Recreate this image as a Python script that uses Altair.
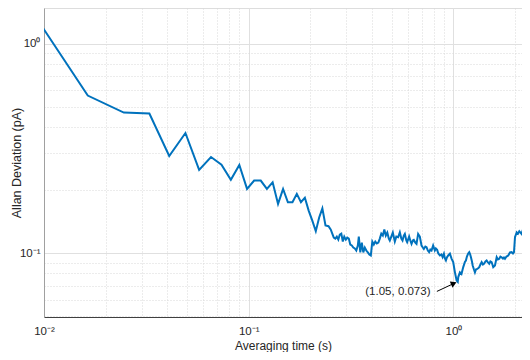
import altair as alt
import pandas as pd

# averaging times (s) and Allan deviation (pA)
tau = [0.00818, 0.01636, 0.02454, 0.03272, 0.0409, 0.04908, 0.05726, 0.06544, 0.07362, 0.0818,
       0.08998, 0.09816, 0.1063, 0.1145, 0.1227, 0.1309, 0.1391, 0.1472, 0.1554, 0.1636,
       0.1718, 0.18, 0.1881, 0.1963, 0.2045, 0.2127, 0.2209, 0.229, 0.2372, 0.2454,
       0.2518, 0.2560, 0.2604, 0.2649, 0.2694, 0.2740, 0.2786, 0.2834, 0.2882, 0.2930,
       0.2981, 0.3031, 0.3083, 0.3135, 0.3189, 0.3243, 0.3298, 0.3354, 0.3412, 0.3450,
       0.3509, 0.3569, 0.3629, 0.3691, 0.3754, 0.3818, 0.3883, 0.3949, 0.4016, 0.4085,
       0.4154, 0.4225, 0.4297, 0.4370, 0.4444, 0.4520, 0.4597, 0.4675, 0.4754, 0.4835,
       0.4890, 0.4973, 0.5058, 0.5173, 0.5261, 0.5369, 0.5473, 0.5566, 0.5642, 0.5725,
       0.5790, 0.5888, 0.5942, 0.6076, 0.6158, 0.6243, 0.6335, 0.6406, 0.6515, 0.6604,
       0.6724, 0.6854, 0.6986, 0.7089, 0.7170, 0.7292, 0.7391, 0.7500, 0.7610, 0.7714,
       0.7818, 0.7960, 0.8114, 0.8206, 0.8327, 0.8440, 0.8590, 0.8736, 0.8855, 0.8986,
       0.9088, 0.9191, 0.9295, 0.9431, 0.9614, 0.9802, 0.9977, 1.0171, 1.037, 1.05,
       1.056, 1.076, 1.095, 1.117, 1.138, 1.151, 1.164, 1.181, 1.195, 1.208,
       1.218, 1.232, 1.242, 1.260, 1.274, 1.288, 1.307, 1.325, 1.337, 1.355,
       1.374, 1.394, 1.410, 1.434, 1.453, 1.475, 1.496, 1.516, 1.537, 1.551,
       1.565, 1.596, 1.627, 1.650, 1.675, 1.697, 1.719, 1.746, 1.766, 1.786,
       1.817, 1.853, 1.889, 1.926, 1.954, 1.977, 1.999, 2.038, 2.068, 2.098,
       2.126, 2.153, 2.187, 2.212, 2.237, 2.263, 2.288, 2.322, 2.354, 2.38]
adev = [1.57, 0.565, 0.469, 0.464, 0.291, 0.3745, 0.2495, 0.2877, 0.2645, 0.224,
        0.2637, 0.2026, 0.222, 0.222, 0.2026, 0.218, 0.1718, 0.2026, 0.175, 0.175,
        0.1918, 0.175, 0.184, 0.1597, 0.143, 0.1273, 0.148, 0.1637, 0.1355, 0.1345,
        0.1296, 0.1240, 0.1187, 0.1174, 0.1200, 0.1161, 0.1227, 0.1240, 0.1136, 0.1200,
        0.1161, 0.1187, 0.1174, 0.1100, 0.1088, 0.1064, 0.1053, 0.1030, 0.1088, 0.1200,
        0.1008, 0.1124, 0.1008, 0.1064, 0.1030, 0.1008, 0.0986, 0.0975, 0.1136, 0.1100,
        0.1136, 0.1112, 0.1124, 0.1174, 0.1240, 0.1214, 0.1296, 0.1214, 0.1254, 0.1174,
        0.1149, 0.1200, 0.1254, 0.1136, 0.1200, 0.1191, 0.1258, 0.1174, 0.1149, 0.1214,
        0.1236, 0.1149, 0.1128, 0.1200, 0.1149, 0.1108, 0.1149, 0.1157, 0.1124, 0.1108,
        0.1236, 0.1200, 0.1088, 0.1064, 0.1048, 0.1076, 0.1068, 0.1030, 0.1011, 0.1041,
        0.1030, 0.1088, 0.1030, 0.1053, 0.1037, 0.0997, 0.0975, 0.0986, 0.0957, 0.0994,
        0.0943, 0.0923, 0.0954, 0.0975, 0.0994, 0.0940, 0.0906, 0.0810, 0.0741, 0.073,
        0.0769, 0.0810, 0.0796, 0.0858, 0.0908, 0.0923, 0.0964, 0.0997, 0.1011, 0.0986,
        0.0957, 0.0913, 0.0874, 0.0836, 0.0810, 0.0836, 0.0842, 0.0849, 0.0858, 0.0883,
        0.0906, 0.0883, 0.0890, 0.0913, 0.0923, 0.0903, 0.0890, 0.0913, 0.0906, 0.0883,
        0.0858, 0.0874, 0.0957, 0.0933, 0.0940, 0.0964, 0.0957, 0.0943, 0.0954, 0.0940,
        0.0964, 0.0975, 0.1008, 0.1011, 0.0997, 0.1011, 0.1191, 0.1258, 0.1240, 0.1273,
        0.1254, 0.1236, 0.1296, 0.1305, 0.1268, 0.1258, 0.1296, 0.1292, 0.1258, 0.128]

x_ticks = [0.01, 0.02, 0.03, 0.04, 0.05, 0.06, 0.07, 0.08, 0.09,
           0.1, 0.2, 0.3, 0.4, 0.5, 0.6, 0.7, 0.8, 0.9, 1, 2]
y_ticks = [0.05, 0.06, 0.07, 0.08, 0.09,
           0.1, 0.2, 0.3, 0.4, 0.5, 0.6, 0.7, 0.8, 0.9, 1]

# annotation
note_text = ["(1.05, 0.073)"]
note_tau = [0.5355]
note_adev = [0.0650]
arrow_tau = [0.8303]
arrow_adev = [0.0657]
arrow_tau2 = [1.0046]
arrow_adev2 = [0.0717]

df = pd.DataFrame({"tau": tau, "adev": adev})
df_text = pd.DataFrame({"tau": note_tau, "adev": note_adev, "label": note_text})
df_arrow = pd.DataFrame({"tau": arrow_tau, "adev": arrow_adev,
                         "tau2": arrow_tau2, "adev2": arrow_adev2})
df_head = pd.DataFrame({"tau": arrow_tau2, "adev": arrow_adev2})

FONT = "Liberation Sans"
major = "abs(log(datum.value)/LN10 - round(log(datum.value)/LN10)) < 0.001"
label_expr = ("abs(datum.value-0.01)<1e-6 ? '10⁻²' : abs(datum.value-0.1)<1e-6 ? '10⁻¹' : "
              "abs(datum.value-1)<1e-6 ? '10⁰' : ''")

grid_dash = {"condition": {"test": major, "value": []}, "value": [1, 2]}
grid_color = {"condition": {"test": major, "value": "#e0e0e0"}, "value": "#d8d8d8"}

xscale = alt.Scale(type="log", domain=[0.01, 2.163])
yscale = alt.Scale(type="log", domain=[0.0496, 1.479])

X = alt.X("tau:Q", scale=xscale, axis=alt.Axis(
    title="Averaging time (s)", values=x_ticks, labelExpr=label_expr,
    labelOverlap=False, ticks=False, labelPadding=8, labelFontSize=11.5,
    labelFont=FONT, labelColor="#262626", titleFont=FONT, titleFontSize=12,
    titleFontWeight="normal", titleColor="#262626",
    titleY=28, titleBaseline="middle",
    grid=True, gridDash=grid_dash, gridColor=grid_color, gridWidth=1,
    domainColor="#404040", labelFlush=False))
Y = alt.Y("adev:Q", scale=yscale, axis=alt.Axis(
    title="Allan Deviation (pA)", values=y_ticks, labelExpr=label_expr,
    labelOverlap=False, ticks=False, labelPadding=4, labelFontSize=11.5,
    labelFont=FONT, labelColor="#262626", titleFont=FONT, titleFontSize=12.5,
    titleFontWeight="normal", titleColor="#262626",
    titleX=-28, titleBaseline="middle",
    grid=True, gridDash=grid_dash, gridColor=grid_color, gridWidth=1,
    domainColor="#a0a0a0", labelFlush=False))

line = alt.Chart(df).mark_line(color="#0072BD", strokeWidth=2, clip=True).encode(
    x=X, y=Y, order=alt.Order("tau:Q"))

shaft = alt.Chart(df_arrow).mark_rule(color="#000000", strokeWidth=1).encode(
    x=X, y=Y, x2="tau2:Q", y2="adev2:Q")

head = alt.Chart(df_head).mark_point(shape="triangle-up", angle=66, size=45,
                                     filled=True, color="#000000", opacity=1).encode(x=X, y=Y)

text = alt.Chart(df_text).mark_text(font=FONT, fontSize=11.5, color="#262626",
                                    align="center", baseline="middle").encode(
    x=X, y=Y, text="label:N")

chart = alt.layer(line, shaft, head, text).properties(
    width=478, height=309,
    autosize=alt.AutoSizeParams(type="none"),
    padding={"left": 36, "top": 0, "right": 0, "bottom": 35},
).configure_view(stroke="#b4b4b4", strokeWidth=1).configure(background="white")

chart.save("out.html", embed_options={"renderer": "svg", "actions": False})
